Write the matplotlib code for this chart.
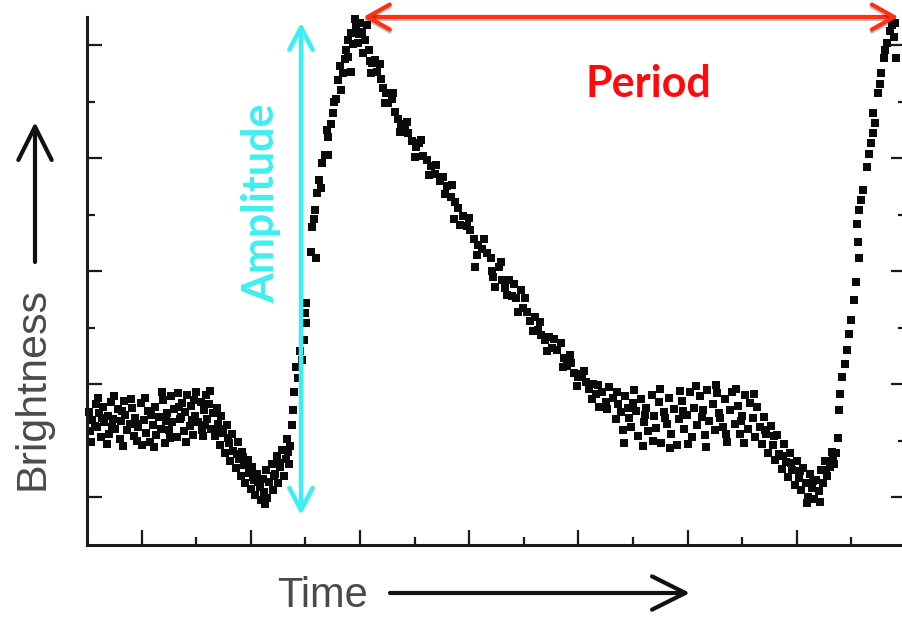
"""Cepheid-style light curve with hand-drawn amplitude / period markers."""
import matplotlib
matplotlib.use("Agg")
import matplotlib.pyplot as plt
from matplotlib import patheffects

# --- observations (time in days, brightness in arbitrary units) -------------
plateau1_t = [0.2, 0.3, 0.5, 0.8, 0.9, 1.1, 1.3, 1.5, 1.6, 1.9, 2.0, 2.2, 2.4, 2.6,
              2.8, 3.0, 3.1, 3.4, 3.5, 3.7, 3.9, 4.1, 4.3, 4.4, 4.7, 4.9, 5.0, 5.2,
              5.4, 5.6, 5.8, 6.0, 6.2, 6.3, 6.6, 6.8, 7.0, 7.1, 7.3, 7.5, 7.7, 7.8,
              8.0, 8.2, 8.3, 8.5, 8.7, 8.9, 9.0, 9.2, 9.4, 9.5, 9.7, 9.9, 10.0, 10.2,
              10.4, 10.5, 10.7, 10.9, 11.0, 11.2, 11.4, 11.5,
              0.4, 1.0, 1.8, 2.5, 3.3, 4.0, 4.6, 5.3, 6.1, 6.9, 7.6, 8.4, 9.1, 9.8,
              10.6, 11.3, 0.7, 1.4, 2.3, 3.2, 4.5, 5.9, 7.2, 8.6, 9.6, 10.8]
plateau1_b = [7.5, 5.8, 6.8, 8.2, 6.2, 7.4, 5.3, 8.0, 6.6, 7.2, 5.6, 8.4, 6.9, 6.0,
              7.8, 5.1, 6.7, 8.5, 7.3, 5.9, 6.5, 7.9, 5.4, 7.0, 6.2, 8.3, 4.6, 6.8,
              5.7, 7.6, 4.9, 6.4, 8.0, 5.5, 7.1, 6.0, 8.6, 4.8, 7.4, 5.9, 8.9, 6.6,
              7.8, 5.3, 9.2, 6.9, 8.3, 5.8, 7.5, 9.0, 6.3, 8.1, 5.5, 7.2, 9.3, 6.6,
              8.4, 5.9, 7.7, 9.0, 6.9, 8.2, 6.0, 7.4,
              4.9, 8.8, 4.7, 8.9, 4.5, 8.7, 5.0, 8.8, 4.4, 9.3, 5.2, 8.0, 4.9, 8.6,
              5.4, 9.4, 6.3, 7.0, 6.2, 7.6, 6.5, 7.3, 6.7, 7.1, 6.8, 6.4]

dip1_t = [11.7, 11.9, 12.0, 12.2, 12.3, 12.5, 12.6, 12.8, 13.0, 13.1, 13.3, 13.4,
          13.6, 13.8, 13.9, 14.1, 14.2, 14.4, 14.5, 14.7, 14.8, 15.0, 15.1, 15.3,
          15.4, 15.6, 15.8, 15.9, 16.1, 16.2, 16.4, 16.5, 16.7, 16.9, 17.0, 17.2,
          17.4, 17.5, 17.7, 17.9, 18.0, 18.2, 18.3, 18.5, 18.6, 18.8,
          12.1, 12.9, 13.7, 14.3, 15.2, 15.7, 16.3, 17.1, 17.6, 18.4]
dip1_b = [5.4, 7.9, 6.5, 4.6, 7.2, 5.7, 3.9, 6.4, 4.8, 3.2, 5.6, 4.1,
          2.6, 4.9, 3.4, 1.9, 4.0, 2.8, 1.2, 3.3, 2.1, 0.7, 2.7, 1.5,
          0.2, 2.0, 0.9, -0.3, 1.6, 0.4, 2.4, -0.1, 1.3, 2.9, 0.6, 2.0,
          3.6, 1.2, 2.7, 4.2, 1.9, 3.4, 5.1, 2.9, 4.5, 6.4,
          6.0, 5.2, 3.8, 3.5, 1.8, 1.3, -0.6, 1.9, 3.0, 4.0]

rise1_t = [18.9, 19.0, 19.1, 19.3, 19.5, 19.7, 19.9, 20.1, 20.1, 20.0, 20.5, 21.0,
           20.6, 20.8, 20.9, 21.1, 21.2, 21.4, 21.8, 22.1, 22.1, 22.3, 22.5, 22.8,
           23.0, 23.4, 24.2, 23.6, 23.7, 23.9, 24.2, 24.6, 25.0, 25.2, 24.8, 25.5,
           25.3, 22.6, 23.2, 23.9, 24.4, 24.9, 25.6, 25.9, 24.5, 23.3, 22.0, 21.5]
rise1_b = [7.7, 9.3, 11.5, 10.5, 12.9, 12.1, 13.9, 15.4, 17.2, 16.3, 21.7, 21.2,
           23.9, 24.6, 25.4, 26.9, 28.1, 27.4, 30.3, 30.3, 31.9, 33.0, 34.0, 35.2,
           36.9, 37.5, 37.6, 38.8, 39.6, 40.5, 41.1, 41.6, 42.0, 41.2, 40.2, 40.5,
           39.3, 35.0, 38.2, 39.0, 40.1, 41.0, 41.8, 38.6, 42.3, 36.0, 32.5, 29.6]

decline_t = [25.8, 26.1, 26.4, 26.6, 26.9, 27.1, 27.4, 27.6, 27.9, 28.2, 28.5, 28.8,
             29.1, 29.4, 29.8, 30.1, 30.4, 30.8, 31.1, 31.5, 31.9, 32.3, 32.6, 33.0,
             33.3, 33.7, 34.0, 33.6, 34.4, 34.8, 35.1, 35.5, 35.4, 35.8, 36.2, 36.6,
             37.0, 37.1, 37.4, 37.7, 38.0, 38.3, 38.6, 38.9, 39.3, 39.7, 39.9, 40.3,
             40.6, 41.0, 41.3, 41.6, 41.9, 42.3, 42.6, 43.0, 43.4, 43.7, 44.0, 44.3,
             44.6, 45.0, 45.3, 45.7, 46.0, 46.3, 46.6, 46.9, 47.2, 47.5, 47.8, 48.2,
             26.0, 26.8, 27.3, 28.0, 28.7, 29.3, 30.0, 30.6, 31.3, 32.0, 32.8, 33.4,
             34.2, 35.0, 35.7, 36.4, 37.2, 37.9, 38.5, 39.1, 39.5, 40.1, 40.8, 41.5,
             42.1, 42.8, 43.6, 44.2, 44.9, 45.5, 46.2, 46.8, 47.6]
decline_b = [39.6, 38.4, 38.7, 37.6, 37.0, 36.2, 35.8, 34.9, 35.2, 34.1, 33.5, 33.0,
             32.9, 32.2, 31.5, 31.0, 31.3, 30.2, 29.8, 29.3, 28.6, 28.0, 28.3, 27.5,
             26.6, 26.1, 25.6, 24.6, 24.9, 24.0, 23.6, 20.4, 22.8, 22.3, 22.0, 21.6,
             21.2, 20.0, 18.6, 20.4, 19.2, 18.5, 19.2, 17.8, 17.6, 18.3, 16.7, 16.4,
             15.6, 15.9, 14.8, 14.3, 13.9, 14.2, 13.2, 13.0, 13.6, 12.3, 11.6, 11.9,
             11.0, 10.6, 10.9, 10.2, 9.6, 10.0, 9.1, 8.0, 9.3, 8.4, 9.7, 8.8,
             37.5, 38.3, 34.9, 35.8, 32.3, 33.2, 30.1, 31.6, 28.5, 29.4, 26.8, 27.6,
             24.1, 24.7, 21.4, 22.8, 19.5, 20.8, 17.9, 18.9, 16.4, 17.6, 14.7, 15.5,
             12.9, 14.0, 11.5, 12.6, 9.8, 11.2, 8.7, 9.9, 7.8]

plateau2_t = [48.4, 48.6, 48.9, 49.1, 49.3, 49.6, 49.8, 50.0, 50.3, 50.5, 50.7, 51.0,
              51.2, 51.4, 51.7, 51.9, 52.1, 52.4, 52.6, 52.8, 53.1, 53.3, 53.5, 53.8,
              54.0, 54.2, 54.5, 54.7, 54.9, 55.2, 55.4, 55.6, 55.9, 56.1, 56.3, 56.6,
              56.8, 57.0, 57.3, 57.5, 57.7, 57.9, 58.2, 58.4, 58.6, 58.9, 59.1, 59.3,
              59.6, 59.8, 60.0, 60.3, 60.5, 60.7, 61.0, 61.2, 61.4,
              48.5, 49.2, 50.1, 50.9, 51.8, 52.5, 53.4, 54.3, 55.0, 55.8, 56.7, 57.6,
              58.5, 59.4, 60.2, 61.1, 49.5, 51.1, 52.9, 54.6, 56.4, 58.0, 59.9]
plateau2_b = [6.9, 8.2, 7.5, 5.9, 8.9, 7.0, 6.2, 8.3, 7.6, 5.4, 8.7, 6.6,
              7.9, 5.8, 9.0, 7.2, 6.1, 8.4, 4.8, 7.5, 6.5, 8.8, 5.6, 7.8,
              4.6, 6.9, 8.5, 6.0, 7.3, 9.3, 5.3, 7.9, 6.4, 8.9, 7.1, 5.5,
              9.5, 6.7, 8.2, 5.9, 9.2, 7.4, 6.2, 8.7, 4.9, 7.7, 9.3, 6.5,
              8.1, 5.6, 7.2, 9.0, 6.0, 8.3, 7.0, 5.3, 8.0,
              9.3, 4.8, 9.5, 4.5, 5.0, 9.6, 4.3, 9.4, 4.7, 9.8, 4.4, 9.9,
              5.6, 9.6, 4.8, 9.1, 7.9, 7.3, 7.0, 7.6, 7.7, 7.0, 6.7]

dip2_t = [61.6, 61.8, 62.0, 62.2, 62.4, 62.6, 62.8, 63.0, 63.2, 63.4, 63.6, 63.8,
          64.0, 64.2, 64.4, 64.6, 64.8, 65.0, 65.2, 65.4, 65.6, 65.8, 66.0, 66.2,
          66.4, 66.6, 66.8, 67.0, 67.2, 67.4, 67.6, 67.8, 68.0, 68.2, 68.4, 68.6,
          68.8, 62.1, 62.9, 63.7, 64.5, 65.3, 65.9, 66.5, 67.1, 67.7, 68.3]
dip2_b = [6.2, 4.7, 7.1, 5.6, 3.9, 6.3, 4.6, 3.3, 5.5, 3.8, 2.5, 4.7,
          3.1, 1.8, 3.9, 2.4, 1.1, 3.2, 1.7, 0.6, 2.6, 1.2, 0.0, 2.0,
          0.8, -0.2, 1.5, 0.5, 2.4, 1.2, 3.2, 1.9, 2.7, 4.0, 2.9, 3.9,
          5.2, 5.9, 5.4, 3.6, 3.0, 2.3, -0.5, 1.4, -0.4, 2.4, 3.4]

rise2_t = [68.9, 69.0, 69.1, 69.4, 69.6, 69.8, 70.0, 70.2, 70.4, 70.7, 70.5, 70.6,
           70.7, 70.9, 71.1, 71.4, 71.6, 71.8, 72.0, 72.0, 72.2, 72.4, 72.6, 72.7,
           73.0, 73.1, 73.3, 73.5, 73.9, 74.1, 73.7, 74.0]
rise2_b = [7.7, 9.1, 10.6, 11.8, 13.0, 14.4, 15.7, 17.4, 19.0, 21.2, 24.2, 22.6,
           25.4, 26.3, 27.2, 29.2, 30.4, 31.3, 32.2, 34.0, 33.1, 35.8, 36.6, 37.5,
           38.9, 39.6, 40.2, 41.3, 40.7, 38.9, 41.8, 42.0]

major_time = [5, 15, 25, 35, 45, 55, 65, 75]
minor_time = [10, 20, 30, 40, 50, 60, 70]
major_bright = [0, 10, 20, 30, 40]
minor_bright = [5, 15, 25, 35]

# amplitude / period markers (data units)
amp_time, amp_low, amp_high = 19.6, -1.6, 42.0
period_start, period_end, period_level = 25.3, 74.3, 42.5

CYAN = "#3DEFF2"
RED_ARROW = "#FF3012"
RED_TEXT = "#FF0A0A"
LABEL_GREY = "#4A4A4A"

W, H = 903, 619
fig = plt.figure(figsize=(W / 100, H / 100), dpi=100)
fig.patch.set_facecolor("white")

# axes: left spine at x=87px, bottom at y=545px, top at 17px, right just off-canvas
ax = fig.add_axes([87 / W, 74 / H, 819 / W, 528 / H])
ax.set_xlim(0, 74.66)
ax.set_ylim(-4.25, 42.5)

segments = [
    (plateau1_t, plateau1_b), (dip1_t, dip1_b), (rise1_t, rise1_b),
    (decline_t, decline_b), (plateau2_t, plateau2_b), (dip2_t, dip2_b),
    (rise2_t, rise2_b),
]
for t, b in segments:
    ax.plot(t, b, ls="none", marker="s", ms=5.6, color="#0a0a0a",
            markeredgewidth=0, clip_on=False)

ax.spines["top"].set_visible(False)
for side in ("left", "bottom", "right"):
    ax.spines[side].set_linewidth(2.2)
    ax.spines[side].set_color("#1a1a1a")

ax.set_xticks(major_time)
ax.set_xticks(minor_time, minor=True)
ax.set_yticks(major_bright)
ax.set_yticks(minor_bright, minor=True)
ax.tick_params(which="both", direction="in", labelbottom=False, labelleft=False,
               right=True, top=False, color="#1a1a1a", width=1.6)
ax.tick_params(which="major", length=11)
ax.tick_params(which="minor", length=6)

# amplitude arrow + label
ax.annotate("", xy=(amp_time, amp_high), xytext=(amp_time, amp_low),
            arrowprops=dict(arrowstyle="<->,head_length=0.8,head_width=0.42",
                            color=CYAN, lw=3.3, mutation_scale=20,
                            shrinkA=0, shrinkB=0),
            annotation_clip=False)
ax.text(16.0, 26.0, "Amplitude", rotation=90, ha="center", va="center",
        color=CYAN, fontsize=31, fontweight="bold", family="Lato")

# period arrow + label
shadow = [patheffects.SimpleLineShadow(offset=(0, -1.5), alpha=0.25),
          patheffects.Normal()]
arr = ax.annotate("", xy=(period_end, period_level), xytext=(period_start, period_level),
                  arrowprops=dict(arrowstyle="<->,head_length=0.8,head_width=0.45",
                                  color=RED_ARROW, lw=3.0, mutation_scale=20,
                                  shrinkA=0, shrinkB=0),
                  annotation_clip=False)
arr.arrow_patch.set_path_effects(shadow)
ax.text(51.4, 35.4, "Period", ha="center", va="baseline",
        color=RED_TEXT, fontsize=31, fontweight="bold", family="Lato")

# axis labels with arrows
fig.text(33 / W, 1 - 388 / H, "Brightness", rotation=90, ha="center", va="center",
         color=LABEL_GREY, fontsize=31, family="Liberation Sans")
fig.text(322 / W, 1 - 607 / H, "Time", ha="center", va="baseline",
         color=LABEL_GREY, fontsize=30, family="Liberation Sans")

arrow_kw = dict(arrowstyle="->,head_length=1.2,head_width=0.6", color="#111111",
                lw=3.0, mutation_scale=20, shrinkA=0, shrinkB=0)
ax.annotate("", xy=(35 / W, 1 - 122 / H), xytext=(35 / W, 1 - 262 / H),
            xycoords="figure fraction", textcoords="figure fraction",
            arrowprops=arrow_kw, annotation_clip=False)
ax.annotate("", xy=(690 / W, 1 - 593 / H), xytext=(390 / W, 1 - 593 / H),
            xycoords="figure fraction", textcoords="figure fraction",
            arrowprops=arrow_kw, annotation_clip=False)

fig.savefig("out.png", dpi=100, facecolor="white")
